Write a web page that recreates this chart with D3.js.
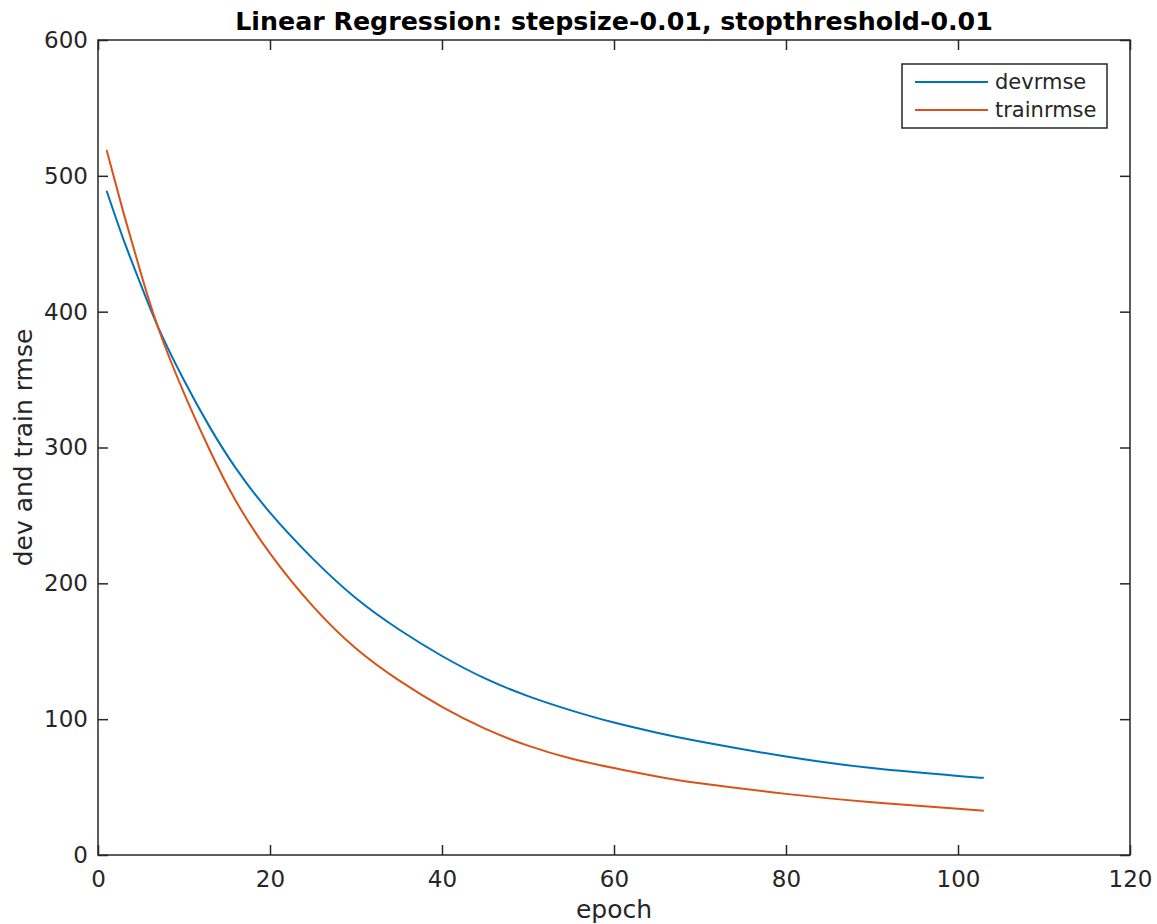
<!DOCTYPE html>
<html>
<head>
<meta charset="utf-8">
<script src="https://cdn.jsdelivr.net/npm/d3@7"></script>
<style>
  body { margin: 0; background: #fff; }
  svg text { font-family: "DejaVu Sans", sans-serif; fill: #262626; }
</style>
</head>
<body>
<svg id="chart" width="1157" height="924"></svg>
<script>
// values
var epochs = [1, 3, 5, 7, 10, 13, 16, 20, 25, 30, 35, 40, 45, 50, 55, 60, 65, 70, 80, 90, 100, 103]
var devRmse = [489, 452.5, 419.5, 388.5, 349.5, 315, 285, 252, 218, 189, 166, 146.5, 130, 117, 106.5, 97.5, 90, 83.5, 72.5, 64, 58.2, 56.8]
var trainRmse = [519, 472, 428, 388, 340, 298, 261, 222, 183, 152, 128.5, 109, 93, 80.5, 71, 64, 57.8, 52.8, 45, 38.8, 34, 32.6]
var xTicks = [0, 20, 40, 60, 80, 100, 120]
var yTicks = [0, 100, 200, 300, 400, 500, 600]
var seriesNames = ["devrmse", "trainrmse"]
var seriesColors = ["#0072BD", "#D95319"]

var svg = d3.select("#chart"),
    margin = { top: 40, right: 27, bottom: 69, left: 98 },
    width = +svg.attr("width") - margin.left - margin.right,
    height = +svg.attr("height") - margin.top - margin.bottom,
    g = svg.append("g").attr("transform", "translate(" + margin.left + "," + margin.top + ")")

var x = d3.scaleLinear().domain([0, 120]).range([0, width])
var y = d3.scaleLinear().domain([0, 600]).range([height, 0])

var axisColor = "#262626"
var tickLen = 10

function styleAxis(sel) {
    sel.select(".domain").remove()
    sel.selectAll("line").attr("stroke", axisColor).attr("stroke-width", 1.5)
    sel.selectAll("text").attr("font-size", 23).attr("fill", axisColor)
}

// bottom & left with labels, ticks pointing inward
g.append("g")
    .attr("transform", "translate(0," + height + ")")
    .call(d3.axisBottom(x).tickValues(xTicks).tickSizeInner(-tickLen).tickSizeOuter(0).tickPadding(16))
    .call(styleAxis)

g.append("g")
    .call(d3.axisLeft(y).tickValues(yTicks).tickSizeInner(-tickLen).tickSizeOuter(0).tickPadding(10))
    .call(styleAxis)

// top & right, ticks only
g.append("g")
    .call(d3.axisTop(x).tickValues(xTicks).tickSizeInner(-tickLen).tickSizeOuter(0).tickFormat(""))
    .call(styleAxis)

g.append("g")
    .attr("transform", "translate(" + width + ",0)")
    .call(d3.axisRight(y).tickValues(yTicks).tickSizeInner(-tickLen).tickSizeOuter(0).tickFormat(""))
    .call(styleAxis)

// box
g.append("rect")
    .attr("width", width)
    .attr("height", height)
    .attr("fill", "none")
    .attr("stroke", axisColor)
    .attr("stroke-width", 1.5)

// lines
var line = d3.line()
    .x(function (d) { return x(d[0]) })
    .y(function (d) { return y(d[1]) })
    .curve(d3.curveNatural)

var series = [devRmse, trainRmse]
series.forEach(function (vals, i) {
    g.append("path")
        .datum(epochs.map(function (e, j) { return [e, vals[j]] }))
        .attr("fill", "none")
        .attr("stroke", seriesColors[i])
        .attr("stroke-width", 2)
        .attr("d", line)
})

// title
svg.append("text")
    .attr("x", margin.left + width / 2)
    .attr("y", 30)
    .attr("text-anchor", "middle")
    .attr("font-size", 25.3)
    .attr("font-weight", "bold")
    .style("fill", "#000")
    .text("Linear Regression: stepsize-0.01, stopthreshold-0.01")

// axis labels
svg.append("text")
    .attr("x", margin.left + width / 2)
    .attr("y", 918)
    .attr("text-anchor", "middle")
    .attr("font-size", 25)
    .text("epoch")

svg.append("text")
    .attr("transform", "translate(32," + (margin.top + height / 2) + ") rotate(-90)")
    .attr("text-anchor", "middle")
    .attr("font-size", 25)
    .text("dev and train rmse")

// legend
var legend = svg.append("g").attr("transform", "translate(902,64)")
legend.append("rect")
    .attr("width", 205)
    .attr("height", 64)
    .attr("fill", "#fff")
    .attr("stroke", axisColor)
    .attr("stroke-width", 1.5)

seriesNames.forEach(function (name, i) {
    var ly = 18 + i * 28
    legend.append("line")
        .attr("x1", 13).attr("x2", 86)
        .attr("y1", ly).attr("y2", ly)
        .attr("stroke", seriesColors[i])
        .attr("stroke-width", 2)
    legend.append("text")
        .attr("x", 93)
        .attr("y", ly + 7)
        .attr("font-size", 21)
        .text(name)
})
</script>
</body>
</html>
